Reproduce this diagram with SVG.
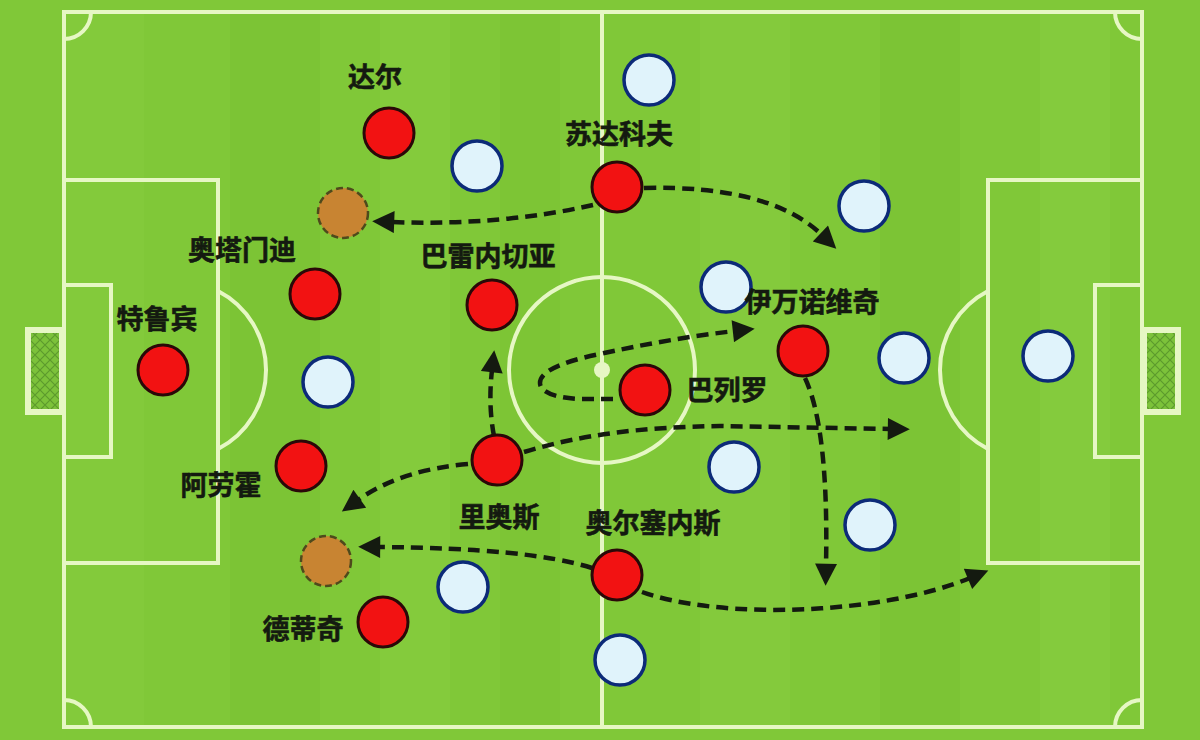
<svg xmlns="http://www.w3.org/2000/svg" width="1200" height="740" viewBox="0 0 1200 740">
<defs>
<style>
.line{fill:none;stroke:#e6f7c4;stroke-width:4}
.red{fill:#f21212;stroke:#2a0808;stroke-width:3}
.blue{fill:#e0f3fb;stroke:#0c2a78;stroke-width:3.5}
.ghost{fill:#c88432;stroke:#4e4a1c;stroke-width:2.5;stroke-dasharray:7 4}
.lbl{font-family:"Noto Sans CJK SC","Noto Sans",sans-serif;font-weight:700;font-size:27px;fill:#141a10;stroke:#141a10;stroke-width:0.6;text-anchor:middle}
.run{fill:none;stroke:#141a10;stroke-width:4.5;stroke-dasharray:12 7;marker-end:url(#ah)}
</style>
<marker id="ah" viewBox="0 0 10 10" refX="1" refY="5" markerUnits="userSpaceOnUse" markerWidth="24" markerHeight="22" orient="auto">
<path d="M0,0 L10,5 L0,10 z" fill="#141a10"/>
</marker>
<pattern id="net" width="10" height="10" patternUnits="userSpaceOnUse">
<rect width="10" height="10" fill="#7cc23a"/>
<path d="M0,0 L10,10 M10,0 L0,10" stroke="#5c9a2c" stroke-width="1.2"/>
</pattern>
</defs>
<rect width="1200" height="740" fill="#80c838"/>
<g id="stripes" opacity="0.5">
<rect x="64" y="12" width="80" height="715" fill="#86cc3f"/>
<rect x="230" y="12" width="90" height="715" fill="#7ac233"/>
<rect x="380" y="12" width="70" height="715" fill="#88ce41"/>
<rect x="500" y="12" width="60" height="715" fill="#7bc334"/>
<rect x="700" y="12" width="90" height="715" fill="#88cd40"/>
<rect x="880" y="12" width="80" height="715" fill="#7ac233"/>
<rect x="1040" y="12" width="70" height="715" fill="#88ce41"/>
</g>
<g id="pitch">
<rect class="line" x="64" y="12" width="1078" height="715"/>
<line class="line" x1="602" y1="12" x2="602" y2="727"/>
<circle class="line" cx="602" cy="370" r="93"/>
<circle cx="602" cy="370" r="8" fill="#e6f7c4"/>
<path class="line" d="M64,39 A27,27 0 0 0 91,12"/>
<path class="line" d="M1115,12 A27,27 0 0 0 1142,39"/>
<path class="line" d="M64,700 A27,27 0 0 1 91,727"/>
<path class="line" d="M1115,727 A27,27 0 0 1 1142,700"/>
<rect class="line" x="64" y="180" width="154" height="383"/>
<rect class="line" x="64" y="285" width="47" height="172"/>
<path class="line" d="M218,291 A89,89 0 0 1 218,449"/>
<rect class="line" x="988" y="180" width="154" height="383"/>
<rect class="line" x="1095" y="285" width="47" height="172"/>
<path class="line" d="M988,291 A89,89 0 0 0 988,449"/>
<rect x="28" y="330" width="34" height="82" fill="url(#net)" stroke="#e6f7c4" stroke-width="6"/>
<rect x="1144" y="330" width="34" height="82" fill="url(#net)" stroke="#e6f7c4" stroke-width="6"/>
</g>
<g id="opponents">
<circle class="blue" cx="649" cy="80" r="25"/>
<circle class="blue" cx="477" cy="166" r="25"/>
<circle class="blue" cx="864" cy="206" r="25"/>
<circle class="blue" cx="726" cy="287" r="25"/>
<circle class="blue" cx="904" cy="358" r="25"/>
<circle class="blue" cx="1048" cy="356" r="25"/>
<circle class="blue" cx="328" cy="382" r="25"/>
<circle class="blue" cx="734" cy="467" r="25"/>
<circle class="blue" cx="870" cy="525" r="25"/>
<circle class="blue" cx="463" cy="587" r="25"/>
<circle class="blue" cx="620" cy="660" r="25"/>
</g>
<g id="vacated">
<circle class="ghost" cx="343" cy="213" r="25"/>
<circle class="ghost" cx="326" cy="561" r="25"/>
</g>
<g id="connectors">
<path class="run" d="M593,205 Q500,226 392,222"/>
<path class="run" d="M644,188 Q770,185 822,235"/>
<path class="run" d="M613,399 L580,399 C555,398 540,392 540,383 C540,372 560,362 600,354 C640,345 690,336 735,331"/>
<path class="run" d="M494,436 Q488,405 492,370"/>
<path class="run" d="M524,452 C580,435 640,427 720,426 L890,429"/>
<path class="run" d="M468,464 Q400,470 358,500"/>
<path class="run" d="M592,568 Q530,548 378,547"/>
<path class="run" d="M642,592 C720,620 880,615 970,578"/>
<path class="run" d="M805,378 C820,410 828,470 826,566"/>
</g>
<g id="p-dar"><circle class="red" cx="389" cy="133" r="25"/><text class="lbl" x="375" y="87">达尔</text></g>
<g id="p-sudakov"><circle class="red" cx="617" cy="187" r="25"/><text class="lbl" x="619" y="144">苏达科夫</text></g>
<g id="p-otamendi"><circle class="red" cx="315" cy="294" r="25"/><text class="lbl" x="242" y="260">奥塔门迪</text></g>
<g id="p-barrenechea"><circle class="red" cx="492" cy="305" r="25"/><text class="lbl" x="488" y="266">巴雷内切亚</text></g>
<g id="p-trubin"><circle class="red" cx="163" cy="370" r="25"/><text class="lbl" x="157" y="329">特鲁宾</text></g>
<g id="p-ivanovic"><circle class="red" cx="803" cy="351" r="25"/><text class="lbl" x="812" y="312">伊万诺维奇</text></g>
<g id="p-barreiro"><circle class="red" cx="645" cy="390" r="25"/><text class="lbl" x="727" y="400">巴列罗</text></g>
<g id="p-araujo"><circle class="red" cx="301" cy="466" r="25"/><text class="lbl" x="221" y="495">阿劳霍</text></g>
<g id="p-rios"><circle class="red" cx="497" cy="460" r="25"/><text class="lbl" x="499" y="527">里奥斯</text></g>
<g id="p-aursnes"><circle class="red" cx="617" cy="575" r="25"/><text class="lbl" x="653" y="533">奥尔塞内斯</text></g>
<g id="p-dedic"><circle class="red" cx="383" cy="622" r="25"/><text class="lbl" x="303" y="639">德蒂奇</text></g>
</svg>
